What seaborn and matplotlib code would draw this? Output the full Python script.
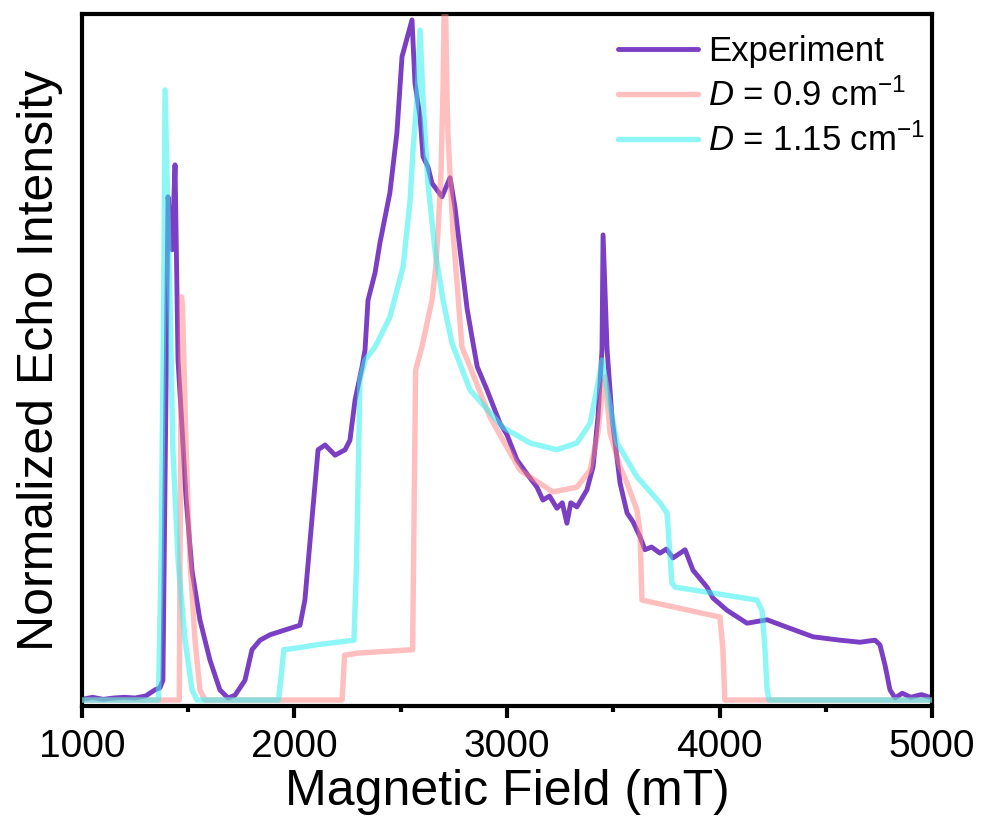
import numpy as np
import pandas as pd
import matplotlib
matplotlib.use("Agg")
import matplotlib.pyplot as plt
import seaborn as sns

# ---- data ----
exp_x = [1000, 1050, 1100, 1150, 1200, 1250, 1300, 1344, 1367, 1381, 1395, 1405, 1424, 1438,
         1452, 1471, 1489, 1518, 1555, 1602, 1649, 1687, 1720, 1767, 1800, 1838, 1885, 1955,
         2026, 2049, 2082, 2111, 2144, 2191, 2238, 2261, 2285, 2318, 2332, 2346, 2379, 2402,
         2449, 2482, 2506, 2553, 2567, 2591, 2605, 2628, 2647, 2694, 2732, 2755, 2779, 2812,
         2835, 2860, 2906, 2967, 3000, 3047, 3100, 3141, 3169, 3200, 3235, 3260, 3282, 3300,
         3329, 3376, 3405, 3428, 3447, 3452, 3471, 3494, 3532, 3565, 3593, 3626, 3649, 3680,
         3720, 3750, 3781, 3810, 3838, 3875, 3941, 3969, 4035, 4129, 4224, 4318, 4440, 4567,
         4661, 4732, 4755, 4779, 4802, 4826, 4860, 4900, 4950, 5000]
exp_y = [0.001, 0.004, 0.001, 0.003, 0.004, 0.003, 0.006, 0.015, 0.018, 0.029, 0.441, 0.740,
         0.662, 0.787, 0.500, 0.400, 0.300, 0.190, 0.118, 0.059, 0.015, 0.003, 0.007, 0.029,
         0.074, 0.088, 0.096, 0.103, 0.110, 0.147, 0.265, 0.368, 0.375, 0.360, 0.368, 0.382,
         0.441, 0.490, 0.515, 0.588, 0.628, 0.672, 0.746, 0.834, 0.946, 1.000, 0.907, 0.857,
         0.799, 0.784, 0.760, 0.740, 0.768, 0.725, 0.662, 0.576, 0.534, 0.490, 0.456, 0.407,
         0.390, 0.353, 0.330, 0.313, 0.294, 0.300, 0.282, 0.290, 0.260, 0.290, 0.284, 0.309,
         0.343, 0.416, 0.515, 0.684, 0.515, 0.416, 0.319, 0.275, 0.262, 0.240, 0.221, 0.225,
         0.216, 0.222, 0.209, 0.215, 0.221, 0.191, 0.166, 0.150, 0.132, 0.113, 0.118, 0.107,
         0.093, 0.088, 0.085, 0.088, 0.081, 0.051, 0.015, 0.003, 0.010, 0.004, 0.008, 0.003]

d09_x = [1000, 1458, 1463, 1468, 1473, 1489, 1508, 1532, 1555, 1579, 2224, 2236, 2300, 2400,
         2556, 2570, 2600, 2647, 2665, 2675, 2690, 2699, 2708, 2717, 2722, 2746, 2765, 2788,
         2826, 2920, 3061, 3216, 3329, 3391, 3428, 3447, 3461, 3485, 3532, 3565, 3612, 3626,
         3635, 4002, 4016, 4025, 5000]
d09_y = [0.0, 0.0, 0.3, 0.593, 0.58, 0.382, 0.206, 0.088, 0.015, 0.0, 0.0, 0.066, 0.069, 0.071,
         0.074, 0.485, 0.52, 0.588, 0.637, 0.687, 0.78, 0.90, 1.09, 0.90, 0.834, 0.687, 0.613,
         0.519, 0.490, 0.416, 0.338, 0.306, 0.313, 0.338, 0.393, 0.45, 0.475, 0.393, 0.343,
         0.319, 0.279, 0.246, 0.147, 0.122, 0.074, 0.0, 0.0]

d115_x = [1000, 1360, 1372, 1385, 1391, 1414, 1428, 1452, 1485, 1518, 1541, 1925, 1950, 2000,
          2100, 2280, 2292, 2308, 2332, 2379, 2449, 2511, 2544, 2558, 2576, 2591, 2605, 2628,
          2661, 2699, 2741, 2826, 2981, 3108, 3235, 3329, 3391, 3428, 3447, 3471, 3518, 3612,
          3720, 3744, 3753, 3776, 3791, 4176, 4200, 4214, 4224, 4233, 5000]
d115_y = [0.0, 0.0, 0.2, 0.6, 0.897, 0.588, 0.368, 0.206, 0.088, 0.015, 0.0, 0.0, 0.074, 0.076,
          0.081, 0.088, 0.2, 0.471, 0.5, 0.519, 0.563, 0.637, 0.735, 0.809, 0.882, 0.985, 0.882,
          0.760, 0.662, 0.588, 0.525, 0.456, 0.401, 0.378, 0.368, 0.378, 0.407, 0.466, 0.5,
          0.456, 0.378, 0.328, 0.290, 0.279, 0.275, 0.172, 0.166, 0.147, 0.132, 0.074, 0.015,
          0.0, 0.0]

labels = ["Experiment", r"$D$ = 0.9 cm$^{\mathregular{-1}}$", r"$D$ = 1.15 cm$^{\mathregular{-1}}$"]
x_ticks = [1000, 2000, 3000, 4000, 5000]

# ---- style ----
sns.set_style("white")
plt.rcParams["font.family"] = ["Liberation Sans", "DejaVu Sans"]
plt.rcParams["mathtext.fontset"] = "custom"
plt.rcParams["mathtext.rm"] = "Liberation Sans"
plt.rcParams["mathtext.it"] = "Liberation Sans:italic"
plt.rcParams["text.color"] = "black"
plt.rcParams["axes.labelcolor"] = "black"
plt.rcParams["xtick.color"] = "black"

fig = plt.figure(figsize=(9.91, 8.38), dpi=100)
ax = fig.add_axes([0.0827, 0.1575, 0.8578, 0.8258])

sns.lineplot(x=exp_x, y=exp_y, ax=ax, color="#7B3FC4", lw=3.5, sort=False,
             label=labels[0], zorder=2)
sns.lineplot(x=d09_x, y=d09_y, ax=ax, color="#FF8080", alpha=0.5, lw=3.9, sort=False,
             label=labels[1], zorder=3)
sns.lineplot(x=d115_x, y=d115_y, ax=ax, color="#33F0F0", alpha=0.55, lw=3.9, sort=False,
             label=labels[2], zorder=4)

ax.set_xlim(1000, 5000)
ax.set_ylim(-0.0088, 1.0088)
ax.set_xticks(x_ticks)
ax.set_xticks([1500, 2500, 3500, 4500], minor=True)
ax.set_yticks([])
ax.tick_params(axis="x", which="major", direction="out", length=8.5, width=3,
               labelsize=28, pad=8, bottom=True, colors="black")
ax.tick_params(axis="x", which="minor", direction="out", length=4.5, width=3, bottom=True,
               colors="black")
for s in ax.spines.values():
    s.set_linewidth(3)
    s.set_color("black")
    s.set_visible(True)

ax.set_xlabel("Magnetic Field (mT)", fontsize=36, labelpad=3)
ax.set_ylabel("Normalized Echo Intensity", fontsize=36, labelpad=14)

leg = ax.legend(loc="upper right", frameon=False, fontsize=25, handlelength=2.3,
                handletextpad=0.3, labelspacing=0.3, borderaxespad=0.2,
                bbox_to_anchor=(1.017, 1.0))
for t in leg.get_texts():
    t.set_color("black")

fig.savefig("out.png", dpi=100)
